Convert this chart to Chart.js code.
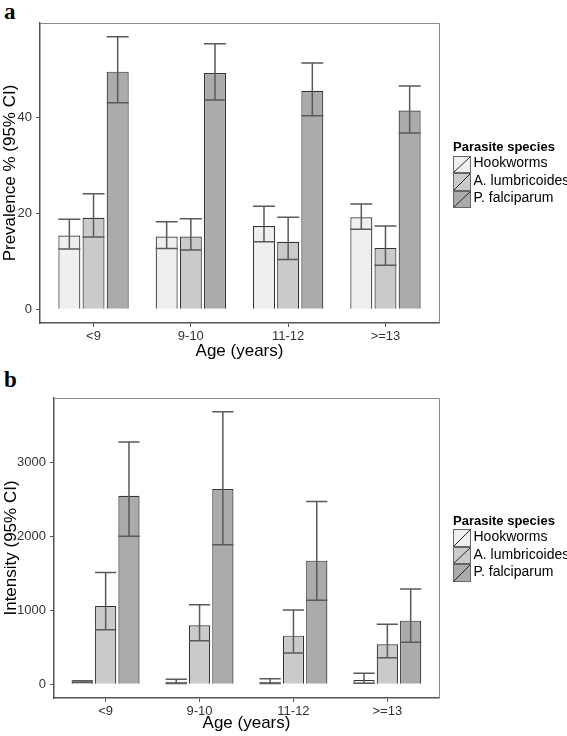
<!DOCTYPE html>
<html>
<head>
<meta charset="utf-8">
<script src="https://cdn.jsdelivr.net/npm/chart.js@4.4.1/dist/chart.umd.min.js"></script>
<style>
  body { margin: 0; background: #fff; font-family: 'Liberation Sans', Arial, sans-serif; }
  #wrap { position: relative; width: 567px; height: 736px; overflow: hidden; }
  canvas { position: absolute; left: 0; }
  .tag { position: absolute; font: bold 23px 'Liberation Serif', 'Times New Roman', serif; line-height: 1; color: #000; }
  .legTitle { position: absolute; font: bold 13px 'Liberation Sans', Arial, sans-serif; line-height: 13px; color: #000; white-space: nowrap; }
  .legText { position: absolute; font: 14px 'Liberation Sans', Arial, sans-serif; line-height: 14px; color: #000; white-space: nowrap; }
  .legKey { position: absolute; width: 18px; height: 17.5px; box-sizing: border-box; border: 1px solid #666; }
</style>
</head>
<body>
<div id="wrap">
  <div class="tag" style="left:4px;top:0px">a</div>
  <div class="tag" style="left:4px;top:368px">b</div>
  <canvas id="chartA" width="567" height="368" style="top:0"></canvas>
  <canvas id="chartB" width="567" height="368" style="top:368px"></canvas>
</div>
<script>
/* ---------- data ---------- */
const categories = ['<9', '9-10', '11-12', '>=13'];
const species = ['Hookworms', 'A. lumbricoides', 'P. falciparum'];
const fills = ['#efefef', '#cacaca', '#ababab'];

// panel a: prevalence %
const prevHook   = [15.4, 15.2, 17.4, 19.2];
const prevHookLo = [12.6, 12.7, 14.1, 16.7];
const prevHookHi = [18.8, 18.3, 21.5, 22.0];
const prevAsc    = [19.1, 15.2, 14.1, 12.8];
const prevAscLo  = [15.1, 12.4, 10.4, 9.2];
const prevAscHi  = [24.1, 18.9, 19.2, 17.4];
const prevPf     = [49.6, 49.3, 45.6, 41.5];
const prevPfLo   = [43.1, 43.7, 40.4, 36.8];
const prevPfHi   = [56.9, 55.4, 51.4, 46.6];
const prevTicks  = [0, 20, 40];

// panel b: intensity
const intHook    = [40, 35, 35, 60];
const intHookLo  = [25, 10, 10, 15];
const intHookHi  = [50, 70, 75, 150];
const intAsc     = [1057, 796, 657, 540];
const intAscLo   = [738, 590, 423, 360];
const intAscHi   = [1511, 1075, 1003, 810];
const intPf      = [2546, 2636, 1669, 860];
const intPfLo    = [1997, 1885, 1134, 567];
const intPfHi    = [3270, 3680, 2466, 1286];
const intTicks   = [0, 1000, 2000, 3000];

const FONT = "'Liberation Sans', Arial, sans-serif";

/* ---------- plugins ---------- */
const errorBars = {
  id: 'errorBars',
  afterDatasetsDraw(chart) {
    const ctx = chart.ctx, y = chart.scales.y;
    chart.data.datasets.forEach((ds, i) => {
      const meta = chart.getDatasetMeta(i);
      meta.data.forEach((bar, j) => {
        const half = bar.width / 2;
        const yLo = y.getPixelForValue(ds.lo[j]);
        const yHi = y.getPixelForValue(ds.hi[j]);
        ctx.save();
        ctx.strokeStyle = '#5a5a5a';
        ctx.lineWidth = 1.5;
        ctx.beginPath();
        ctx.moveTo(bar.x, yLo); ctx.lineTo(bar.x, yHi);
        ctx.moveTo(bar.x - half, yHi); ctx.lineTo(bar.x + half, yHi);
        ctx.moveTo(bar.x - half, yLo); ctx.lineTo(bar.x + half, yLo);
        ctx.stroke();
        ctx.restore();
      });
    });
  }
};

const frame = {
  id: 'frame',
  afterDraw(chart) {
    const { ctx, chartArea: a } = chart;
    ctx.save();
    ctx.strokeStyle = '#8a8a8a';
    ctx.lineWidth = 1;
    ctx.beginPath();
    ctx.moveTo(a.left, a.top + 0.5); ctx.lineTo(a.right + 0.5, a.top + 0.5);
    ctx.lineTo(a.right + 0.5, a.bottom);
    ctx.stroke();
    ctx.restore();
  }
};

/* ---------- chart builder ---------- */
function renderPanel(id, p) {
  const series = [
    [p.hook, p.hookLo, p.hookHi],
    [p.asc, p.ascLo, p.ascHi],
    [p.pf, p.pfLo, p.pfHi]
  ];
  return new Chart(document.getElementById(id).getContext('2d'), {
    type: 'bar',
    data: {
      datasets: series.map((s, k) => ({
        label: species[k],
        data: s[0].map((v, i) => ({ x: i + 1, y: v })),
        lo: s[1],
        hi: s[2],
        backgroundColor: fills[k],
        borderColor: '#333',
        borderWidth: 1.2,
        categoryPercentage: 0.745,
        barPercentage: 0.91
      }))
    },
    options: {
      responsive: false,
      animation: false,
      layout: { padding: { top: p.top, right: 128, left: 0, bottom: 0 } },
      plugins: { legend: { display: false }, tooltip: { enabled: false } },
      scales: {
        x: {
          type: 'linear',
          offset: false,
          min: 0.45, max: 4.55,
          afterFit: s => { s.height = p.xh; },
          afterBuildTicks: s => { s.ticks = categories.map((c, i) => ({ value: i + 1 })); },
          border: { color: '#555', width: 1.5 },
          grid: { drawOnChartArea: false, offset: false, tickLength: 4, tickColor: '#555', color: '#555' },
          ticks: { autoSkip: false, maxRotation: 0, padding: 2, color: '#333',
                   font: { family: FONT, size: 13 }, callback: v => categories[v - 1] },
          title: { display: true, text: 'Age (years)', color: '#000',
                   font: { family: FONT, size: 17 }, padding: { top: 0, bottom: p.xtPad } }
        },
        y: {
          min: p.ymin, max: p.ymax,
          afterFit: s => { s.width = p.yw; },
          afterBuildTicks: s => { s.ticks = p.ticks.map(v => ({ value: v })); },
          border: { color: '#555', width: 1.5 },
          grid: { drawOnChartArea: false, tickLength: 4, tickColor: '#555', color: '#555' },
          ticks: { padding: 4, color: '#333', font: { family: FONT, size: 13 }, callback: v => String(v) },
          title: { display: true, text: p.ytitle, color: '#000',
                   font: { family: FONT, size: 17 }, padding: { top: p.ytPad, bottom: 0 } }
        }
      }
    },
    plugins: [errorBars, frame]
  });
}

/* ---------- legend (html) ---------- */
function renderLegend(boxTop) {
  const wrap = document.getElementById('wrap');
  const t = document.createElement('div');
  t.className = 'legTitle';
  t.textContent = 'Parasite species';
  t.style.left = '453px';
  t.style.top = (boxTop - 15.8) + 'px';
  wrap.appendChild(t);
  species.forEach((name, k) => {
    const top = boxTop + k * 17.5;
    const key = document.createElement('div');
    key.className = 'legKey';
    key.style.left = '452.5px';
    key.style.top = top + 'px';
    key.style.background = `linear-gradient(to bottom right, ${fills[k]} calc(50% - 0.7px), #222 50%, ${fills[k]} calc(50% + 0.7px))`;
    wrap.appendChild(key);
    const lab = document.createElement('div');
    lab.className = 'legText';
    lab.textContent = name;
    lab.style.left = '473.5px';
    lab.style.top = (top - 0.1) + 'px';
    wrap.appendChild(lab);
  });
}

renderPanel('chartA', {
  hook: prevHook, hookLo: prevHookLo, hookHi: prevHookHi,
  asc: prevAsc, ascLo: prevAscLo, ascHi: prevAscHi,
  pf: prevPf, pfLo: prevPfLo, pfHi: prevPfHi,
  ticks: prevTicks, ymin: -2.85, ymax: 59.75,
  ytitle: 'Prevalence % (95% CI)',
  top: 23, xh: 45, yw: 40, xtPad: 6, ytPad: 0
});
renderPanel('chartB', {
  hook: intHook, hookLo: intHookLo, hookHi: intHookHi,
  asc: intAsc, ascLo: intAscLo, ascHi: intAscHi,
  pf: intPf, pfLo: intPfLo, pfHi: intPfHi,
  ticks: intTicks, ymin: -184, ymax: 3864,
  ytitle: 'Intensity (95% CI)',
  top: 30, xh: 38, yw: 54, xtPad: 2, ytPad: 1
});
renderLegend(155.5);
renderLegend(529.3);
</script>
</body>
</html>
